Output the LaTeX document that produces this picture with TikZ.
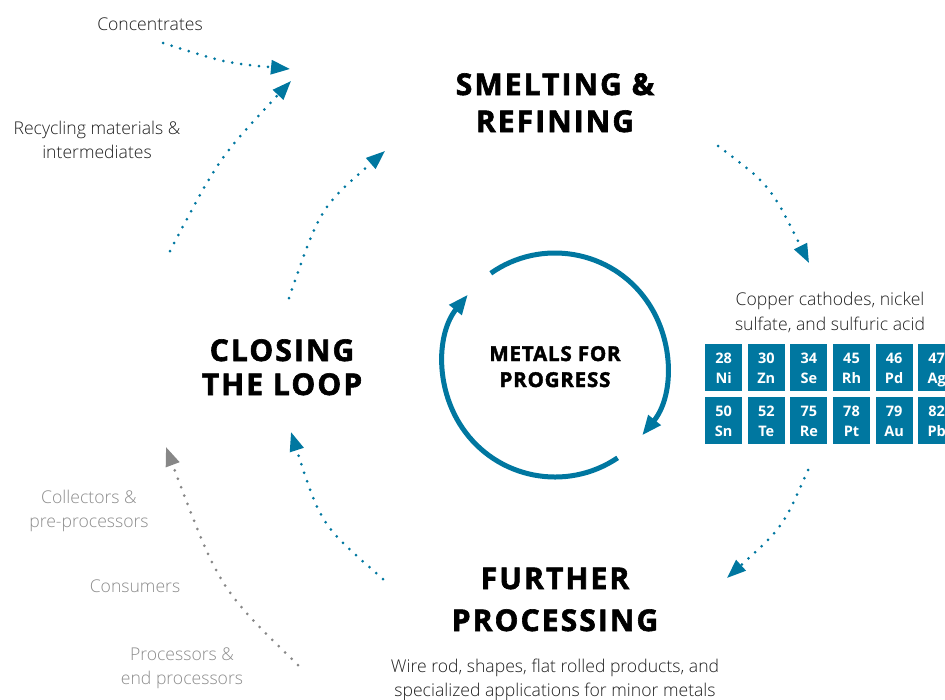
\documentclass[tikz,border=0pt]{standalone}
\usepackage{fontspec}
\usetikzlibrary{arrows.meta}
\IfFontExistsTF{Open Sans Light}{\setmainfont{Open Sans Light}}{\setmainfont{Open Sans}}
\IfFontExistsTF{Open Sans ExtraBold}
  {\newfontfamily\titlefont[LetterSpace=7,FakeBold=2]{Open Sans ExtraBold}}
  {\newfontfamily\titlefontbase[LetterSpace=7,BoldFeatures={FakeBold=2}]{Open Sans}\def\titlefont{\titlefontbase\bfseries}}
\newfontfamily\ctrfont[LetterSpace=4,BoldFeatures={FakeBold=2}]{Open Sans}
\newfontfamily\tilefont{Open Sans}
\definecolor{mfpblue}{RGB}{0,119,160}
\definecolor{bodytxt}{RGB}{30,30,30}
\definecolor{greytxt}{RGB}{140,140,140}
\definecolor{greyarrow}{RGB}{135,135,135}
\tikzset{
  body/.style={font=\fontsize{17.6}{23}\selectfont, text=bodytxt, inner sep=0pt, anchor=base},
  faded/.style={body, text=greytxt},
  ttl/.style={font=\titlefont\fontsize{30}{34}\selectfont, inner sep=0pt, anchor=base},
  ctr/.style={font=\ctrfont\bfseries\fontsize{20.5}{26}\selectfont, inner sep=0pt, anchor=base},
  tile/.style={fill=mfpblue, minimum width=37, minimum height=47, inner sep=0pt, anchor=north west},
  tiletxt/.style={font=\tilefont\bfseries\fontsize{14.5}{18}\selectfont, text=white, inner sep=0pt, anchor=base},
  flow/.style={mfpblue, line width=3, dash pattern=on 0pt off 9pt, line cap=round,
    -{Triangle[length=19pt,width=14pt]}},
  greyflow/.style={flow, greyarrow},
  ring/.style={mfpblue, line width=5, -{Triangle[length=20pt,width=15pt]}},
}
\begin{document}
\begin{tikzpicture}[x=1pt,y=-1pt]
\useasboundingbox (0,0) rectangle (945,699);
% titles
\node[ttl] (sm1) at (555,95) {SMELTING \&};
\node[ttl] (sm2) at (555,132) {REFINING};
\node[ttl] (cl1) at (282,361) {CLOSING};
\node[ttl] (cl2) at (282,395) {THE LOOP};
\node[ttl] (fp1) at (555,589) {FURTHER};
\node[ttl] (fp2) at (555,631) {PROCESSING};
\node[ctr] (mf1) at (555,361) {METALS FOR};
\node[ctr] (mf2) at (555,387) {PROGRESS};
% body texts
\node[body] (conc) at (150,30) {Concentrates};
\node[body] (rec1) at (97,134) {Recycling materials \&};
\node[body] (rec2) at (97,158) {intermediates};
\node[body] (cop1) at (830,305) {Copper cathodes, nickel};
\node[body] (cop2) at (830,330) {sulfate, and sulfuric acid};
\node[body] (wir1) at (555,672) {Wire rod, shapes, flat rolled products, and};
\node[body] (wir2) at (555,696) {specialized applications for minor metals};
\node[faded] (col1) at (89,503) {Collectors \&};
\node[faded] (col2) at (89,527) {pre-processors};
\node[faded] (cons) at (135,592) {Consumers};
\node[faded] (pro1) at (182,660) {Processors \&};
\node[faded] (pro2) at (182,684) {end processors};
% tiles
\foreach \n/\s [count=\i from 0] in {28/Ni,30/Zn,34/Se,45/Rh,46/Pd,47/Ag}{
  \node[tile] (ta\i) at ({705+42.6*\i},344) {};
  \node[tiletxt] (na\i) at ([yshift=-19pt]ta\i.north) {\n};
  \node[tiletxt] (sa\i) at ([yshift=-39pt]ta\i.north) {\s};
}
\foreach \n/\s [count=\i from 0] in {50/Sn,52/Te,75/Re,78/Pt,79/Au,82/Pb}{
  \node[tile] (tb\i) at ({705+42.6*\i},397) {};
  \node[tiletxt] (nb\i) at ([yshift=-19pt]tb\i.north) {\n};
  \node[tiletxt] (sb\i) at ([yshift=-39pt]tb\i.north) {\s};
}
% central ring
\coordinate (c) at (555,365);
\draw[ring] (c) ++(-125:112) arc[start angle=-125, end angle=39, radius=112];
\draw[ring] (c) ++(56:112) arc[start angle=56, end angle=219, radius=112];
% flow arrows
\coordinate (a1) at (163,43);  \coordinate (b1) at (290,69);
\coordinate (a2) at (170,251); \coordinate (b2) at (291,81);
\coordinate (a3) at (289,298); \coordinate (b3) at (385,151);
\coordinate (a4) at (718,146); \coordinate (b4) at (809,263);
\coordinate (a5) at (808,470); \coordinate (b5) at (727,578);
\coordinate (a6) at (383,579); \coordinate (b6) at (291,432);
\coordinate (a7) at (298,665); \coordinate (b7) at (166,447);
\draw[flow] (a1) .. controls (226,63) .. (b1);
\draw[flow] (a2) .. controls (219,158) .. (b2);
\draw[flow] (a3) .. controls (320,208) .. (b3);
\draw[flow] (a4) .. controls (770,185) .. (b4);
\draw[flow] (a5) .. controls (783,527) .. (b5);
\draw[flow] (a6) .. controls (321,525) .. (b6);
\draw[greyflow] (a7) .. controls (219,588) .. (b7);
\end{tikzpicture}
\end{document}
